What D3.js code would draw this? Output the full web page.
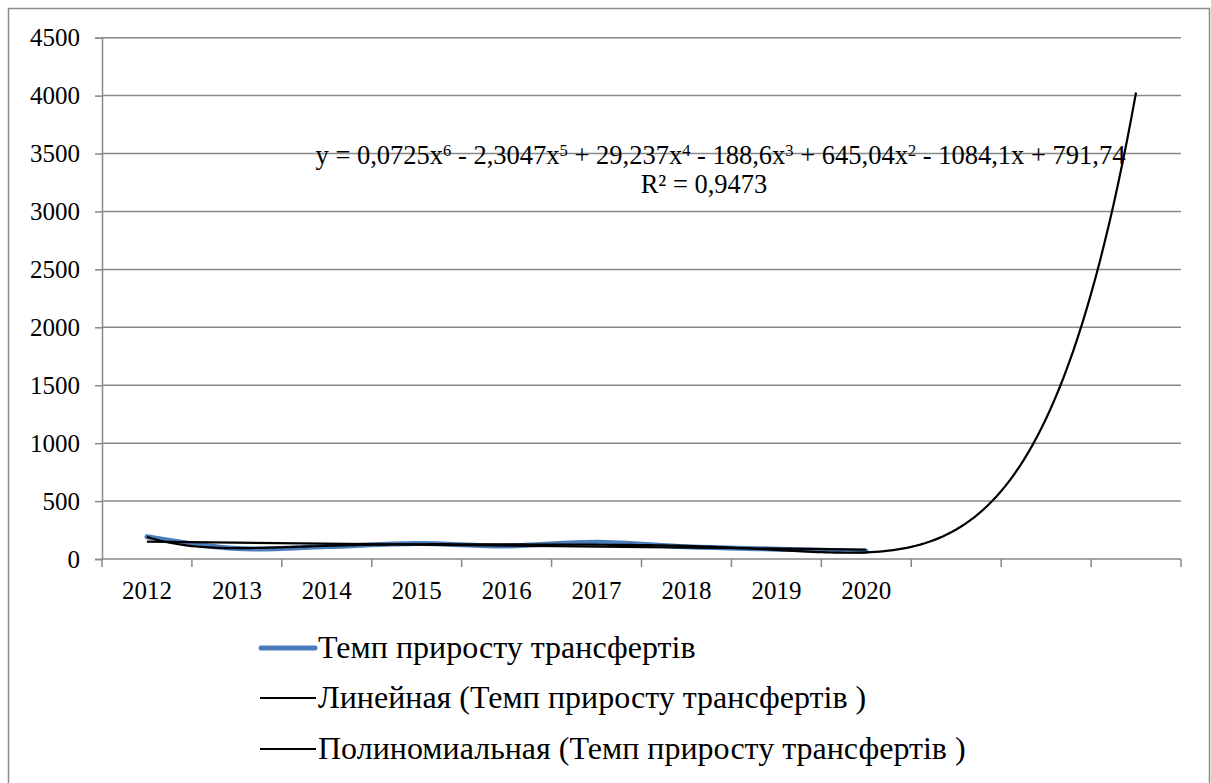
<!DOCTYPE html>
<html><head><meta charset="utf-8">
<script src="https://cdn.jsdelivr.net/npm/d3@7"></script>
<style>body{margin:0;background:#fff}svg{display:block}svg text{font-family:"Liberation Serif","DejaVu Serif",serif !important}</style></head>
<body>
<svg id="c" width="1211" height="783"></svg>
<script>
// ---- data ----
const categories = ["2012","2013","2014","2015","2016","2017","2018","2019","2020","","",""];
const growthRate = [192, 90, 107, 134, 113, 145, 106, 85, 65];
// polynomial trendline coefficients as printed on the chart (c0 .. c6)
const polyCoefs = [791.74, -1084.1, 645.04, -188.6, 29.237, -2.3047, 0.0725];
const yTicks = [0, 500, 1000, 1500, 2000, 2500, 3000, 3500, 4000, 4500];
const seriesNames = ["Темп приросту трансфертів",
  "Линейная (Темп приросту трансфертів )",
  "Полиномиальная (Темп приросту трансфертів )"];
const eqParts = [["y = 0,0725x",""],["6",1],[" - 2,3047x",""],["5",1],[" + 29,237x",""],["4",1],
  [" - 188,6x",""],["3",1],[" + 645,04x",""],["2",1],[" - 1084,1x + 791,74",""]];
const r2Label = "R² = 0,9473";

// ---- layout ----
const svg = d3.select("#c");
const L = 102, R = 1181, T = 37.7, B = 559;
const FONT = "Liberation Serif, DejaVu Serif, serif";
const grid = "#888888";

svg.append("rect").attr("x",8.5).attr("y",8.5).attr("width",1201).attr("height",820)
  .attr("fill","#fff").attr("stroke","#8c8c8c").attr("stroke-width",1.5);

const x = d3.scaleBand().domain(d3.range(categories.length)).range([L, R]).paddingInner(0).paddingOuter(0);
const y = d3.scaleLinear().domain([0, 4500]).range([B, T]);
const cx = i => x(i) + x.bandwidth()/2;   // index 0-based
const px = v => L + (v - 0.5) * x.bandwidth(); // trend x (1-based) -> pixel

// gridlines
svg.append("g").selectAll("line").data(yTicks.filter(d=>d>0)).join("line")
  .attr("x1",L).attr("x2",R).attr("y1",d=>y(d)).attr("y2",d=>y(d))
  .attr("stroke",grid).attr("stroke-width",1.5);

// y axis
const yAxis = svg.append("g").attr("transform",`translate(${L},0)`)
  .call(d3.axisLeft(y).tickValues(yTicks).tickSize(7).tickPadding(15).tickFormat(d3.format("d")));
yAxis.attr("font-family",FONT).attr("font-size",25);
yAxis.select(".domain").attr("stroke",grid).attr("stroke-width",1.5);
yAxis.selectAll(".tick line").attr("stroke",grid).attr("stroke-width",1.5);
yAxis.selectAll("text").style("font-family",FONT).style("font-size","25px").attr("fill","#000");

// x axis
const xAxisG = svg.append("g").attr("transform",`translate(0,${B})`);
xAxisG.append("line").attr("x1",L).attr("x2",R).attr("y1",0).attr("y2",0)
  .attr("stroke",grid).attr("stroke-width",1.5);
const bounds = d3.range(categories.length+1).map(i => i < categories.length ? x(i) : R);
xAxisG.selectAll(".tk").data(bounds).join("line").attr("class","tk")
  .attr("x1",d=>d).attr("x2",d=>d).attr("y1",0).attr("y2",8)
  .attr("stroke",grid).attr("stroke-width",1.5);
xAxisG.selectAll(".lbl").data(categories).join("text").attr("class","lbl")
  .attr("x",(d,i)=>cx(i)).attr("y",40).attr("text-anchor","middle")
  .style("font-family",FONT).style("font-size","25px").text(d=>d);

// data series (smoothed)
const line = d3.line().x((d,i)=>cx(i)).y(d=>y(d)).curve(d3.curveCatmullRom.alpha(0.5));
svg.append("path").datum(growthRate).attr("d",line)
  .attr("fill","none").attr("stroke","#4a7ebb").attr("stroke-width",5).attr("stroke-linecap","round");

// linear trendline (least squares of the series)
const n = growthRate.length;
const xs = d3.range(1, n+1);
const mx = d3.mean(xs), my = d3.mean(growthRate);
const slope = d3.sum(xs, (v,i)=>(v-mx)*(growthRate[i]-my)) / d3.sum(xs, v=>(v-mx)*(v-mx));
const icpt = my - slope*mx;
svg.append("line").attr("x1",px(1)).attr("x2",px(n))
  .attr("y1",y(icpt+slope*1)).attr("y2",y(icpt+slope*n))
  .attr("stroke","#000").attr("stroke-width",2.2);

// polynomial trendline from the printed equation, across all 12 categories
const poly = t => polyCoefs.reduce((s,c,k)=>s + c*Math.pow(t,k), 0);
const polyPts = d3.range(1, 12.0001, 0.05).map(t => [px(t), y(poly(t))]);
svg.append("path").datum(polyPts).attr("d", d3.line())
  .attr("fill","none").attr("stroke","#000").attr("stroke-width",2.2);

// equation label
const eq = svg.append("text").attr("x",720.5).attr("y",164).attr("text-anchor","middle")
  .style("font-family",FONT).style("font-size","26.5px");
eqParts.forEach(([s,sup]) => {
  const t = eq.append("tspan").text(s);
  if (sup) t.style("font-size","16.5px").attr("baseline-shift","45%");
});
svg.append("text").attr("x",704).attr("y",193).attr("text-anchor","middle")
  .style("font-family",FONT).style("font-size","26.5px").text(r2Label);

// legend
const legY = [648, 698, 749];
const legColors = ["#4a7ebb","#000","#000"];
const legW = [5, 2, 2];
seriesNames.forEach((name,i) => {
  svg.append("line").attr("x1",i===0?261:260).attr("x2",i===0?315:316)
    .attr("y1",legY[i]).attr("y2",legY[i]).attr("stroke",legColors[i]).attr("stroke-width",legW[i])
    .attr("stroke-linecap",i===0?"round":"butt");
  svg.append("text").attr("x",318).attr("y",legY[i]+10)
    .style("font-family",FONT).style("font-size","32px").text(name);
});
</script>
</body></html>
